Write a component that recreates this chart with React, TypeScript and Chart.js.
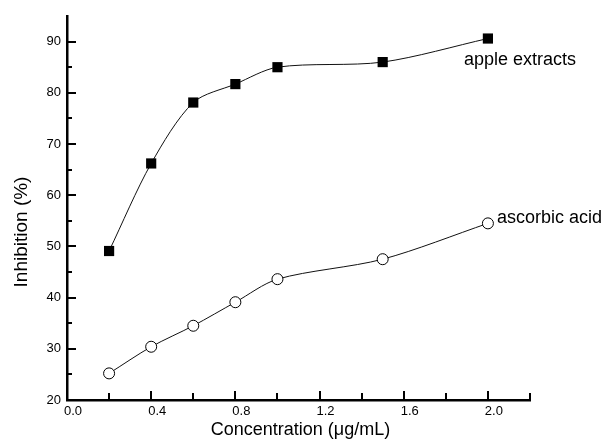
import React, { useEffect, useRef } from "react";
import { Chart, registerables } from "chart.js";

Chart.register(...registerables);

const concentrations = [0.2, 0.4, 0.6, 0.8, 1.0, 1.5, 2.0];
const appleExtracts = [49.1, 66.2, 78.1, 81.7, 85.0, 86.0, 90.6];
const ascorbicAcid = [25.2, 30.4, 34.5, 39.1, 43.6, 47.5, 54.5];
const yTicks = [20, 30, 40, 50, 60, 70, 80, 90];
const xTicks = [0.0, 0.4, 0.8, 1.2, 1.6, 2.0];
const seriesNames = ["apple extracts", "ascorbic acid"];
const xTitle = "Concentration (\u03bcg/mL)";
const yTitle = "Inhibition (%)";

const FONT = "'Liberation Sans', Arial, Helvetica, sans-serif";

const decorPlugin = {
  id: "decor",
  afterDraw(chart: any) {
    const { ctx, chartArea, scales } = chart;
    const xs = scales.x;
    const ys = scales.y;
    ctx.save();
    ctx.strokeStyle = "#000";
    ctx.lineWidth = 2;
    // inward ticks, y axis
    for (let v = 25; v <= 90; v += 5) {
      const py = Math.round(ys.getPixelForValue(v));
      const len = v % 10 === 0 ? 9 : 5;
      ctx.beginPath();
      ctx.moveTo(chartArea.left, py);
      ctx.lineTo(chartArea.left + len, py);
      ctx.stroke();
    }
    // inward ticks, x axis
    for (let i = 1; i <= 11; i++) {
      const v = i * 0.2;
      const px = Math.round(xs.getPixelForValue(v));
      const len = i % 2 === 0 ? 9 : 7;
      ctx.beginPath();
      ctx.moveTo(px, chartArea.bottom);
      ctx.lineTo(px, chartArea.bottom - len);
      ctx.stroke();
    }
    // series labels near last points
    ctx.fillStyle = "#000";
    ctx.font = `18px ${FONT}`;
    ctx.textAlign = "left";
    ctx.textBaseline = "alphabetic";
    const n = concentrations.length - 1;
    const ax = xs.getPixelForValue(concentrations[n]);
    const ay = ys.getPixelForValue(appleExtracts[n]);
    ctx.fillText(seriesNames[0], ax - 24, ay + 26);
    const bx = xs.getPixelForValue(concentrations[n]);
    const by = ys.getPixelForValue(ascorbicAcid[n]);
    ctx.fillText(seriesNames[1], bx + 9, by);
    // axis titles
    ctx.textAlign = "center";
    ctx.textBaseline = "middle";
    ctx.font = `18px ${FONT}`;
    ctx.fillText(xTitle, (chartArea.left + chartArea.right) / 2 + 2, chartArea.bottom + 30);
    ctx.save();
    ctx.font = `19px ${FONT}`;
    ctx.translate(22, (chartArea.top + chartArea.bottom) / 2 + 24);
    ctx.rotate(-Math.PI / 2);
    ctx.fillText(yTitle, 0, 0);
    ctx.restore();
    ctx.restore();
  },
};

export default function App() {
  const ref = useRef<HTMLCanvasElement | null>(null);
  useEffect(() => {
    if (!ref.current) return;
    const chart = new Chart(ref.current, {
      type: "line",
      data: {
        datasets: [
          {
            label: seriesNames[0],
            data: concentrations.map((x, i) => ({ x, y: appleExtracts[i] })),
            borderColor: "#111",
            borderWidth: 1,
            backgroundColor: "#000",
            pointStyle: "rect",
            pointRadius: 7.2,
            pointBorderWidth: 0,
            pointBackgroundColor: "#000",
            tension: 0.3,
          },
          {
            label: seriesNames[1],
            data: concentrations.map((x, i) => ({ x, y: ascorbicAcid[i] })),
            borderColor: "#111",
            borderWidth: 1,
            pointStyle: "circle",
            pointRadius: 5.5,
            pointBorderWidth: 1,
            pointBorderColor: "#000",
            pointBackgroundColor: "#fff",
            tension: 0.3,
          },
        ],
      },
      options: {
        animation: false,
        responsive: false,
        maintainAspectRatio: false,
        layout: { padding: { top: 16, right: 79, left: 0, bottom: 0 } },
        plugins: {
          legend: { display: false },
          tooltip: { enabled: false },
        },
        scales: {
          x: {
            type: "linear",
            min: 0,
            max: 2.2,
            grid: { display: false, drawTicks: false },
            border: { display: true, color: "#000", width: 2.5 },
            afterBuildTicks: (s: any) => {
              s.ticks = xTicks.map((v) => ({ value: v }));
            },
            afterFit: (s: any) => {
              s.height = 39;
            },
            ticks: {
              color: "#000",
              font: { family: FONT, size: 13 },
              padding: 4,
              labelOffset: 6,
              maxRotation: 0,
              autoSkip: false,
              callback: (v: any) => Number(v).toFixed(1),
            },
          },
          y: {
            type: "linear",
            min: 20,
            max: 95,
            grid: { display: false, drawTicks: false },
            border: { display: true, color: "#000", width: 2.5 },
            afterBuildTicks: (s: any) => {
              s.ticks = yTicks.map((v) => ({ value: v }));
            },
            afterFit: (s: any) => {
              s.width = 67;
            },
            ticks: {
              color: "#000",
              font: { family: FONT, size: 13 },
              padding: 6,
              autoSkip: false,
            },
          },
        },
      },
      plugins: [decorPlugin],
    } as any);
    return () => chart.destroy();
  }, []);
  return (
    <div style={{ position: "absolute", left: 0, top: 0, width: 609, height: 439, background: "#fff" }}>
      <canvas ref={ref} width={609} height={439} style={{ width: 609, height: 439 }} />
    </div>
  );
}
